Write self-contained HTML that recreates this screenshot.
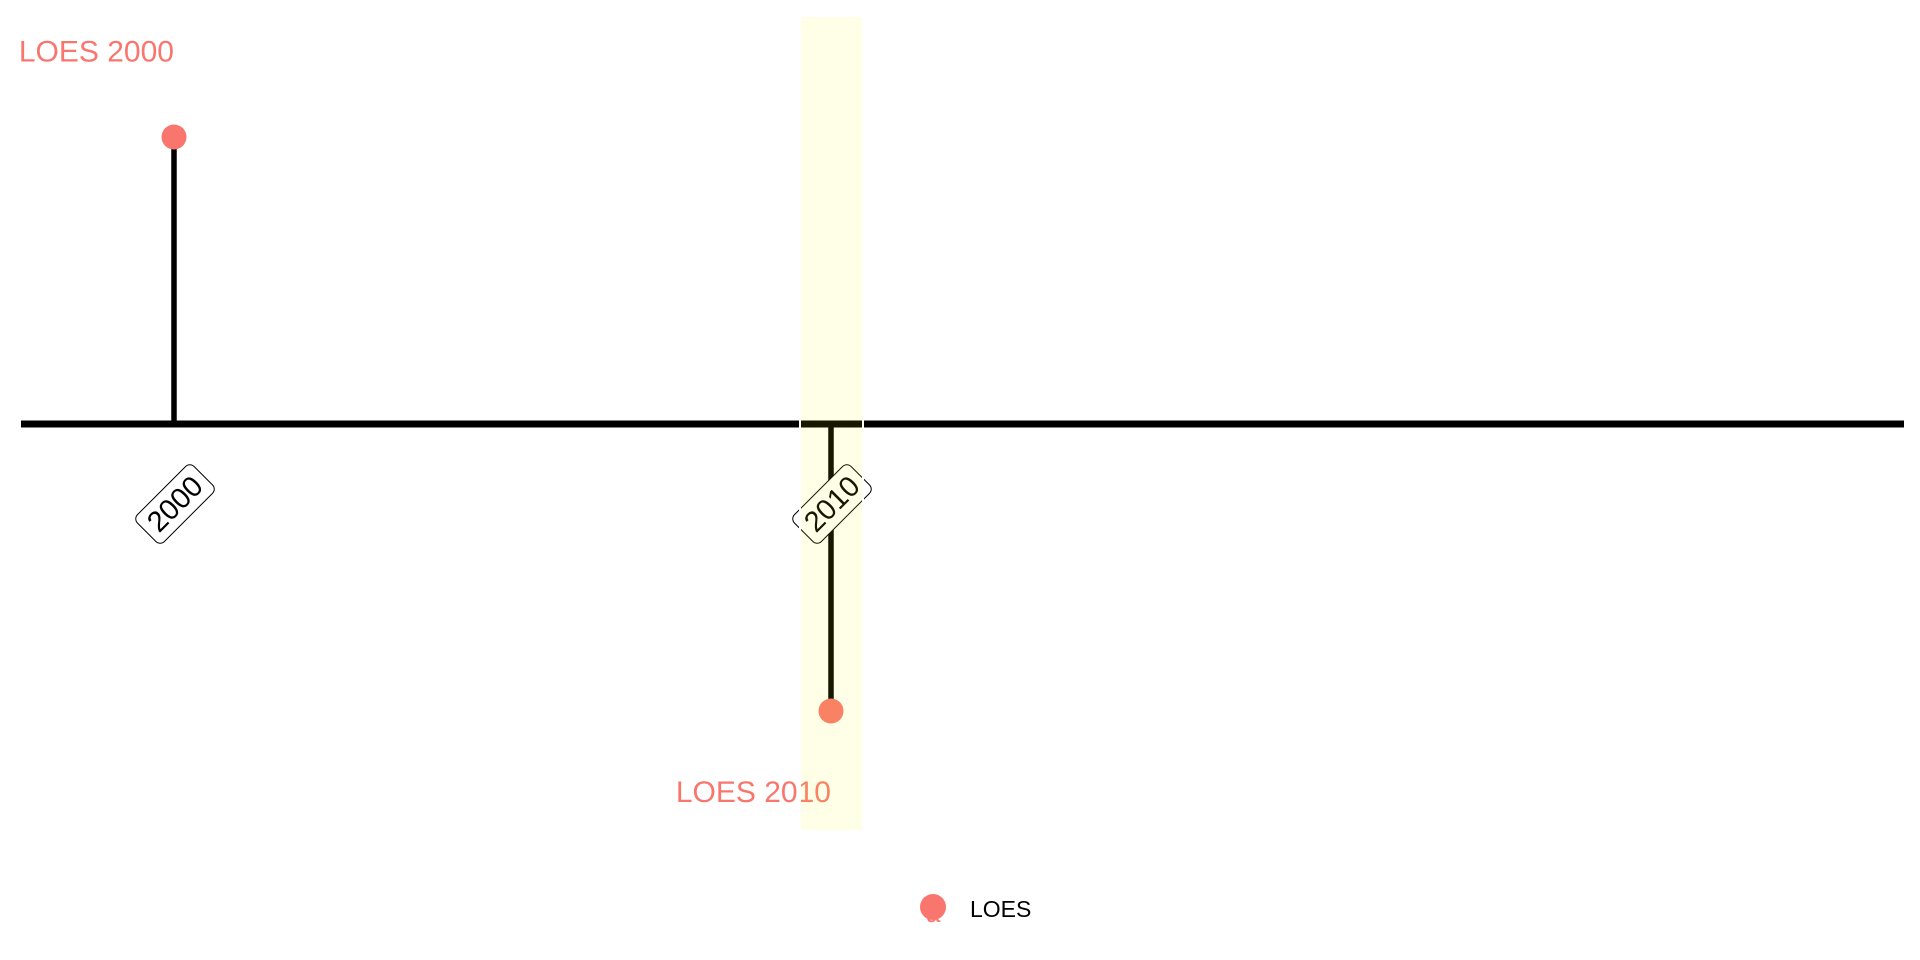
<!DOCTYPE html>
<html><head><meta charset="utf-8"><style>html,body{margin:0;padding:0;background:#fff;}svg{display:block;font-family:"Liberation Sans",sans-serif;}</style></head>
<body>
<svg id="chart" width="1920" height="960"></svg>
<script>
const years = [2000, 2010];
const values = [1, -1];
const labels = ["LOES 2000", "LOES 2010"];
const highlightYear = 2010;
const NS = "http://www.w3.org/2000/svg";
const svg = document.getElementById('chart');
function x(v){ return 174 + (v - 2000) * 65.7; }
function y(v){ return 424 - v * 287; }
function mk(tag, attrs, parent){ const e = document.createElementNS(NS, tag); for (const k in attrs) e.setAttribute(k, attrs[k]); (parent||svg).appendChild(e); return e; }

const axis = mk('line', {x1:21, x2:1904, y1:y(0), y2:y(0), stroke:'#000', 'stroke-width':7});



years.forEach((yr, i) => {
  const stem = mk('line', {x1:x(yr), x2:x(yr), y1:y(0), y2:y(values[i]), stroke:'#000', 'stroke-width':5.5});
  
  
  const pt = mk('circle', {cx:x(yr), cy:y(values[i]), r:12.5, fill:'#f8766d'});
  
  
  const t = mk('text', {x:x(yr), y:y(values[i] * 1.29), 'text-anchor':'end', 'dominant-baseline':'middle', 'font-size':30, fill:'#f8766d'});
  t.textContent = labels[i];
  
  
  const g = mk('g', {transform:'translate(' + (x(yr) + 1) + ',' + (y(0) + 80) + ') rotate(-45)'});
  
  
  mk('rect', {x:-40, y:-19, width:80, height:38, rx:6, fill:'#fff', stroke:'#000', 'stroke-width':1}, g);
  const yt = mk('text', {x:0, y:2, 'text-anchor':'middle', 'dominant-baseline':'middle', 'font-size':29, fill:'#000'}, g);
  yt.textContent = String(yr);
});

const band = mk('rect', {x:x(highlightYear) - 31, y:16, width:63, height:815, fill:'#ffff00', 'fill-opacity':0.09, stroke:'#fff', 'stroke-width':2});



const lg = mk('g', {});


mk('text', {x:926, y:922, 'font-size':26, fill:'#f8766d'}, lg).textContent = 'a';
mk('circle', {cx:933, cy:907, r:13, fill:'#f8766d'}, lg);
const lt = mk('text', {x:970, y:917, 'font-size':23, fill:'#000'}, lg);
lt.textContent = 'LOES';
</script>
</body></html>
